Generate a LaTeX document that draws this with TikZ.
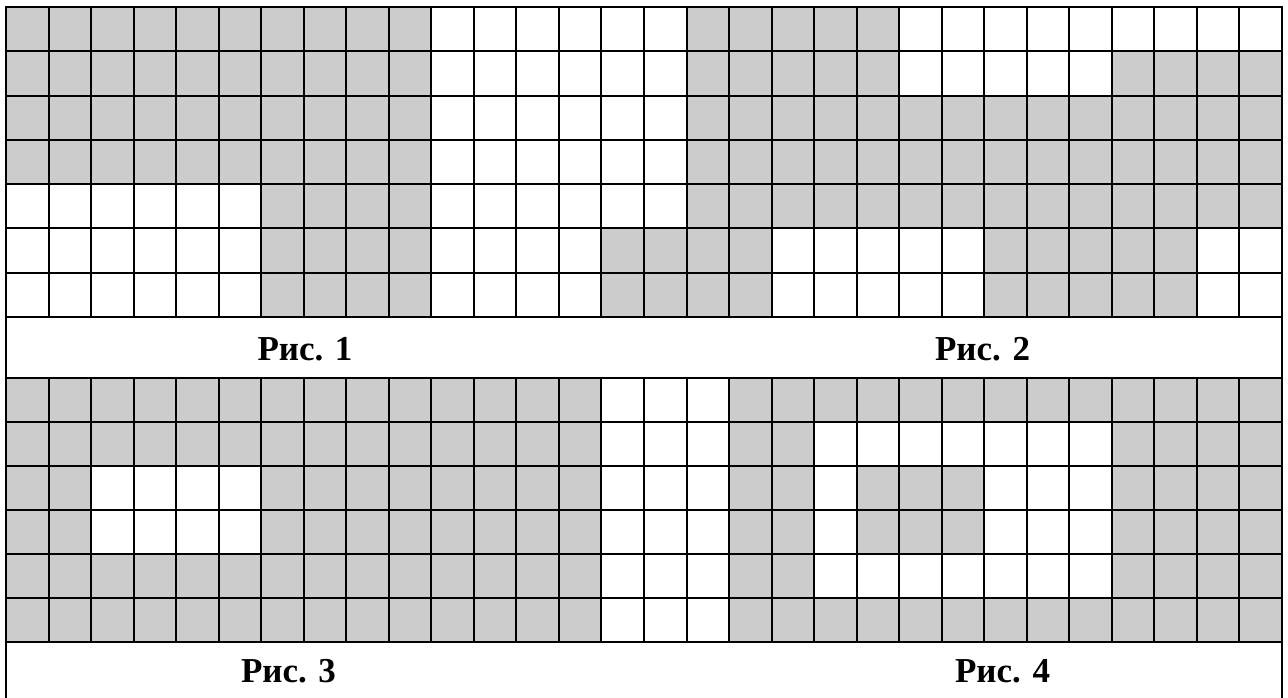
\documentclass[tikz,border=0pt]{standalone}
\usepackage{fontspec}
\setmainfont{Liberation Serif}
\definecolor{cellgray}{HTML}{CCCCCC}
\begin{document}
\begin{tikzpicture}[x=1pt,y=-1pt,
  gridline/.style={line width=2pt, black, line cap=rect},
  cellfill/.style={fill=cellgray},
  figcaption/.style={font=\fontsize{35}{40}\selectfont\bfseries, anchor=base, inner sep=0pt}]
\useasboundingbox (0,0) rectangle (1288,697);
\def\xl{6}
\def\xr{1282}
\def\cw{42.5333}
\def\yt{7}
\def\rht{44.286}
\def\yb{377.6}
\def\rhb{44.12}
% top grid fills
\foreach \r/\a/\b in {0/0/9,0/16/20,
                      1/0/9,1/16/20,1/26/29,
                      2/0/9,2/16/29,
                      3/0/9,3/16/29,
                      4/6/9,4/16/29,
                      5/6/9,5/14/17,5/23/27,
                      6/6/9,6/14/17,6/23/27}
  \fill[cellfill] ({\xl+\a*\cw},{\yt+\r*\rht}) rectangle ({\xl+(\b+1)*\cw},{\yt+(\r+1)*\rht});
% bottom grid fills
\foreach \r/\a/\b in {0/0/13,0/17/29,
                      1/0/13,1/17/18,1/26/29,
                      2/0/1,2/6/13,2/17/18,2/20/22,2/26/29,
                      3/0/1,3/6/13,3/17/18,3/20/22,3/26/29,
                      4/0/13,4/17/18,4/26/29,
                      5/0/13,5/17/29}
  \fill[cellfill] ({\xl+\a*\cw},{\yb+\r*\rhb}) rectangle ({\xl+(\b+1)*\cw},{\yb+(\r+1)*\rhb});
% grid lines top
\foreach \i in {0,...,30}
  \draw[gridline] ({\xl+\i*\cw},\yt) -- ({\xl+\i*\cw},{\yt+7*\rht});
\foreach \j in {0,...,7}
  \draw[gridline] (\xl,{\yt+\j*\rht}) -- (\xr,{\yt+\j*\rht});
% grid lines bottom
\foreach \i in {0,...,30}
  \draw[gridline] ({\xl+\i*\cw},\yb) -- ({\xl+\i*\cw},{\yb+6*\rhb});
\foreach \j in {0,...,6}
  \draw[gridline] (\xl,{\yb+\j*\rhb}) -- (\xr,{\yb+\j*\rhb});
% outer frame sides
\draw[gridline] (\xl,\yt) -- (\xl,700);
\draw[gridline] (\xr,\yt) -- (\xr,700);
% captions
\node[figcaption] (cap1) at (305,360) {Рис. 1};
\node[figcaption] (cap2) at (982.5,360) {Рис. 2};
\node[figcaption] (cap3) at (288.5,682) {Рис. 3};
\node[figcaption] (cap4) at (1002.5,682) {Рис. 4};
\end{tikzpicture}
\end{document}
